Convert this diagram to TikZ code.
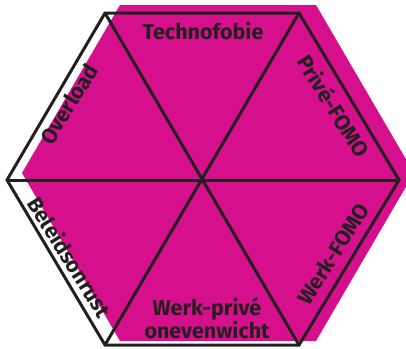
\documentclass[tikz,border=0pt]{standalone}
\usepackage{fontspec}
\setmainfont{Fira Sans}
\usetikzlibrary{positioning}
\definecolor{hexpink}{RGB}{214,15,140}
\definecolor{hexline}{RGB}{35,31,32}
\begin{document}
\begin{tikzpicture}[
    x=1pt, y=-1pt,
    every node/.style={font=\bfseries\fontsize{21.5}{23}\selectfont, text=hexline, inner sep=1pt},
    edge/.style={draw=hexline, line width=3pt, line join=miter},
    lbl/.style={align=center}
]
\useasboundingbox (0,0) rectangle (406,348);
% magenta background, shifted
\fill[hexpink] (120,5) -- (316,5) -- (414,173) -- (316,341) -- (120,341) -- (22,173) -- cycle;
% outline vertices
\coordinate (tl) at (105,13);
\coordinate (tr) at (299,13);
\coordinate (r)  at (399,180);
\coordinate (br) at (299,345);
\coordinate (bl) at (105,345);
\coordinate (l)  at (7,180);
\coordinate (c)  at (203,180);
\draw[edge] (tl) -- (tr) -- (r) -- (br) -- (bl) -- (l) -- cycle;
\draw[edge] (tl) -- (br);
\draw[edge] (tr) -- (bl);
\draw[edge] (l) -- (r);
% labels
\node[lbl] (techno) at (203,31) {Technofobie};
\node[lbl, rotate=-58] (prive) at (334,106) {Privé-FOMO};
\node[lbl, rotate=58] (over) at (69,104) {Overload};
\node[lbl, rotate=-58] (beleid) at (70,257) {Beleidsonrust};
\node[lbl, rotate=58] (werk) at (333,254) {Werk-FOMO};
\node[lbl, font=\bfseries\fontsize{21.5}{23}\selectfont] (onev) at (207,318) {Werk-privé\\onevenwicht};
\end{tikzpicture}
\end{document}
